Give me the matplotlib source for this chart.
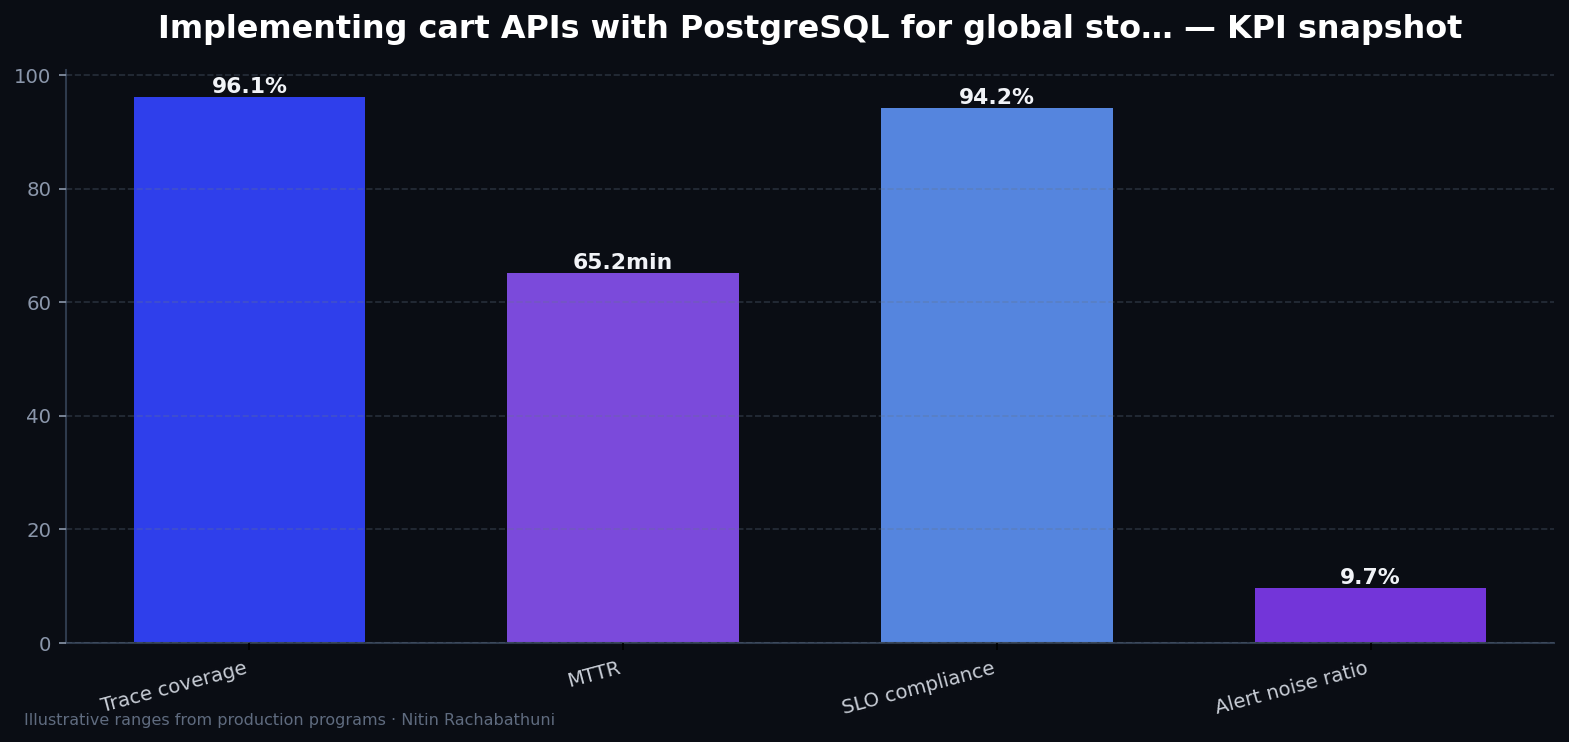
import matplotlib
matplotlib.use("Agg")
import matplotlib.pyplot as plt

# ------------------------------------------------------------
# DATA
# ------------------------------------------------------------
kpis = ["Trace coverage", "MTTR", "SLO compliance", "Alert noise ratio"]
values = [96.1, 65.2, 94.2, 9.7]
units = ["%", "min", "%", "%"]
bar_colors = ["#2F3FEB", "#7B4ADB", "#5585DE", "#7335D9"]

title = "Implementing cart APIs with PostgreSQL for global sto\u2026 \u2014 KPI snapshot"
footer = "Illustrative ranges from production programs \u00b7 Nitin Rachabathuni"

bg = "#0A0D14"

# ------------------------------------------------------------
# FIGURE
# ------------------------------------------------------------
fig, ax = plt.subplots(figsize=(10.46, 4.947), dpi=150)
fig.patch.set_facecolor(bg)
ax.set_facecolor(bg)
fig.subplots_adjust(left=0.042, right=0.9905, bottom=0.1334, top=0.9057)

x = range(len(kpis))
bars = ax.bar(x, values, width=0.62, color=bar_colors, zorder=1)

for b, v, u in zip(bars, values, units):
    ax.text(b.get_x() + b.get_width() / 2, v, f"{v}{u}",
            ha="center", va="bottom", color="#F1F3F7",
            fontsize=10.5, fontweight="bold")

ax.set_ylim(0, max(values) * 1.05)
ax.set_xticks(list(x))
ax.set_xticklabels(kpis, rotation=15, ha="right")

ax.grid(axis="y", linestyle="--", color="#64748B", alpha=0.32,
        linewidth=0.8, zorder=3)
ax.set_axisbelow(False)

for s in ["top", "right"]:
    ax.spines[s].set_visible(False)
for s in ["left", "bottom"]:
    ax.spines[s].set_color("#2E3A4C")
    ax.spines[s].set_linewidth(1.0)

ax.tick_params(axis="y", colors="#8A96AA", labelsize=9.5)
ax.tick_params(axis="x", colors="#000000", labelcolor="#C8CDD6",
               labelsize=9.5, pad=4)

ax.set_title(title, color="#FFFFFF", fontsize=15.3, fontweight="bold", pad=15.5)

fig.text(0.0153, 0.0297, footer, color="#5F6B7F", fontsize=7.7,
         ha="left", va="center")

plt.savefig("out.png", dpi=150, facecolor=bg)
plt.close()
